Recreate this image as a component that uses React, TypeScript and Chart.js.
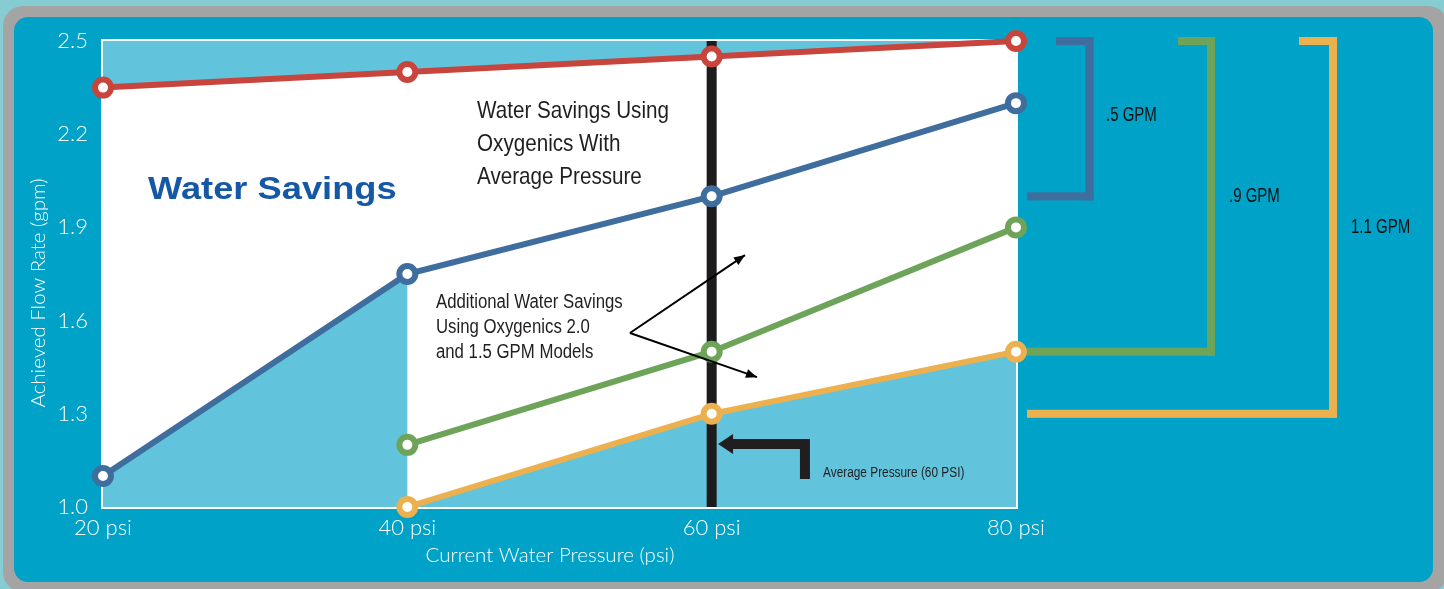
import React, { useEffect, useRef } from 'react';
import { Chart, registerables } from 'chart.js';

Chart.register(...registerables);

// ---------- data ----------
const pressures = [20, 40, 60, 80];
const standardFlow = [2.35, 2.4, 2.45, 2.5]; // red
const oxygenicsFlow = [1.1, 1.75, 2.0, 2.3]; // blue
const oxygenics20Flow = [null, 1.2, 1.5, 1.9]; // green
const oxygenics15Flow = [null, 1.0, 1.3, 1.5]; // orange
const yTickValues = [1.0, 1.3, 1.6, 1.9, 2.2, 2.5];
const xTickValues = [20, 40, 60, 80];
const averagePressure = 60;

const bracketTop = [2.5, 2.5, 2.5];
const bracketBottom = [2.0, 1.5, 1.3];
const bracketLabels = ['.5 GPM', '.9 GPM', '1.1 GPM'];
const bracketLabelY = [2.26, 2.0, 1.9];

const xTitle = 'Current Water Pressure (psi)';
const yTitle = 'Achieved Flow Rate (gpm)';
const titleMain = 'Water Savings';
const noteAverage = ['Water Savings Using', 'Oxygenics With', 'Average Pressure'];
const noteAdditional = ['Additional Water Savings', 'Using Oxygenics 2.0', 'and 1.5 GPM Models'];
const noteAvgPressure = 'Average Pressure (60 PSI)';

// ---------- styles ----------
const RED = '#C8453D';
const BLUE = '#3E6D9E';
const GREEN = '#6DA45A';
const ORANGE = '#EDB04E';
const LIGHT = '#62C4DC';
const INK = '#211E1F';
const AXIS_FONT = 'Lato, "Liberation Sans", sans-serif';
const BASE_FONT = '"Liberation Sans", Arial, sans-serif';

const toXY = (vals: (number | null)[]) =>
  pressures
    .map((p, i) => ({ x: p, y: vals[i] }))
    .filter((d) => d.y !== null) as { x: number; y: number }[];

const lowerEnvelope = [
  { x: pressures[0], y: oxygenicsFlow[0] },
  { x: pressures[1], y: oxygenicsFlow[1] },
  ...pressures.slice(1).map((p, i) => ({ x: p, y: oxygenics15Flow[i + 1] as number })),
];

const seriesStyle = (color: string) => ({
  borderColor: color,
  borderWidth: 6,
  pointRadius: 8,
  pointHoverRadius: 8,
  pointBorderWidth: 6,
  pointBackgroundColor: '#ffffff',
  pointBorderColor: color,
  tension: 0,
  fill: false,
  clip: false as any,
});

function scaledText(
  ctx: CanvasRenderingContext2D,
  text: string,
  x: number,
  y: number,
  font: string,
  color: string,
  sx: number,
) {
  ctx.save();
  ctx.translate(x, y);
  ctx.scale(sx, 1);
  ctx.font = font;
  ctx.fillStyle = color;
  ctx.textAlign = 'left';
  ctx.textBaseline = 'middle';
  ctx.fillText(text, 0, 0);
  ctx.restore();
}

const narrowText = (
  ctx: CanvasRenderingContext2D,
  text: string,
  x: number,
  y: number,
  size: number,
  color: string,
  sx: number,
) => scaledText(ctx, text, x, y, `${size}px ${BASE_FONT}`, color, sx);

function arrowHead(ctx: CanvasRenderingContext2D, x0: number, y0: number, x1: number, y1: number, len: number, half: number) {
  const ang = Math.atan2(y1 - y0, x1 - x0);
  ctx.beginPath();
  ctx.moveTo(x1, y1);
  ctx.lineTo(x1 - len * Math.cos(ang) + half * Math.sin(ang), y1 - len * Math.sin(ang) - half * Math.cos(ang));
  ctx.lineTo(x1 - len * Math.cos(ang) - half * Math.sin(ang), y1 - len * Math.sin(ang) + half * Math.cos(ang));
  ctx.closePath();
  ctx.fill();
}

const decorPlugin = {
  id: 'decor',
  beforeDatasetsDraw(chart: any) {
    const { ctx, chartArea: a } = chart;
    ctx.save();
    ctx.fillStyle = '#ffffff';
    ctx.fillRect(a.left, a.top, a.right - a.left, a.bottom - a.top);
    ctx.strokeStyle = '#ffffff';
    ctx.lineWidth = 2;
    ctx.strokeRect(a.left - 1, a.top - 1, a.right - a.left + 2, a.bottom - a.top + 2);

    // axis titles
    ctx.fillStyle = '#ffffff';
    ctx.font = `300 20.5px ${AXIS_FONT}`;
    ctx.textAlign = 'center';
    ctx.textBaseline = 'middle';
    ctx.fillText(xTitle, a.left + 447, a.bottom + 48);
    ctx.save();
    ctx.translate(a.left - 65, a.top + 252);
    ctx.rotate(-Math.PI / 2);
    ctx.fillText(yTitle, 0, 0);
    ctx.restore();
    ctx.restore();
  },
  afterDatasetsDraw(chart: any) {
    const { ctx, chartArea: a, scales } = chart;
    const X = (v: number) => scales.x.getPixelForValue(v);
    const Y = (v: number) => scales.y.getPixelForValue(v);
    ctx.save();

    // Brackets on the right
    const colors = [BLUE, GREEN, ORANGE];
    const vOff = [73.5, 195, 317];
    const topStart = [40, 162, 283];
    const botStart = 11;
    const labelOff = [90, 213, 335];
    const t = 8;
    for (let i = 0; i < 3; i++) {
      const vx = a.right + vOff[i];
      const yt = Y(bracketTop[i]);
      const yb = Y(bracketBottom[i]);
      ctx.fillStyle = colors[i];
      ctx.fillRect(a.right + topStart[i], yt - t / 2, vx + t / 2 - (a.right + topStart[i]), t);
      ctx.fillRect(vx - t / 2, yt - t / 2, t, yb - yt + t);
      ctx.fillRect(a.right + botStart, yb - t / 2, vx + t / 2 - (a.right + botStart), t);
      narrowText(ctx, bracketLabels[i], a.right + labelOff[i], Y(bracketLabelY[i]), 20, '#111111', 0.75);
    }

    // Main title (wide bold)
    scaledText(ctx, titleMain, X(22.96), Y(2.02), `bold 31px ${BASE_FONT}`, '#1558A6', 1.17);

    // Note: with average pressure
    noteAverage.forEach((line, i) => narrowText(ctx, line, X(44.58), Y(2.275) + i * 33, 24, INK, 0.86));

    // Note: additional
    noteAdditional.forEach((line, i) => narrowText(ctx, line, X(41.88), Y(1.657) + i * 25, 19.5, INK, 0.86));

    // Arrows from note
    const ox = X(54.63), oy = Y(1.56);
    const ends = [
      [X(62.19), Y(1.811)],
      [X(62.98), Y(1.418)],
    ];
    ctx.strokeStyle = '#000000';
    ctx.fillStyle = '#000000';
    ctx.lineWidth = 2;
    ends.forEach(([ex, ey]) => {
      ctx.beginPath();
      ctx.moveTo(ox, oy);
      ctx.lineTo(ex, ey);
      ctx.stroke();
      arrowHead(ctx, ox, oy, ex, ey, 11, 4.5);
    });

    // Average pressure bent arrow
    const cx = X(66.13), cy = Y(1.203);
    const by = Y(1.09);
    const tipX = X(60.42);
    ctx.strokeStyle = INK;
    ctx.fillStyle = INK;
    ctx.lineWidth = 10;
    ctx.lineJoin = 'miter';
    ctx.lineCap = 'butt';
    ctx.beginPath();
    ctx.moveTo(cx, by);
    ctx.lineTo(cx, cy);
    ctx.lineTo(tipX + 14, cy);
    ctx.stroke();
    ctx.beginPath();
    ctx.moveTo(tipX, cy);
    ctx.lineTo(tipX + 15, cy - 10);
    ctx.lineTo(tipX + 15, cy + 10);
    ctx.closePath();
    ctx.fill();

    narrowText(ctx, noteAvgPressure, X(67.32), Y(1.109), 14, INK, 0.846);

    ctx.restore();
  },
};

export default function App() {
  const ref = useRef<HTMLCanvasElement | null>(null);

  useEffect(() => {
    if (!ref.current) return;
    const chart = new Chart(ref.current, {
      type: 'line',
      data: {
        datasets: [
          { label: 'Standard', data: toXY(standardFlow), ...seriesStyle(RED) },
          { label: 'Oxygenics', data: toXY(oxygenicsFlow), ...seriesStyle(BLUE) },
          { label: 'Oxygenics 2.0', data: toXY(oxygenics20Flow), ...seriesStyle(GREEN) },
          { label: 'Oxygenics 1.5', data: toXY(oxygenics15Flow), ...seriesStyle(ORANGE) },
          {
            label: 'Average pressure',
            data: [
              { x: averagePressure, y: yTickValues[0] },
              { x: averagePressure, y: yTickValues[yTickValues.length - 1] },
            ],
            borderColor: '#1D1B1C',
            borderWidth: 10,
            borderCapStyle: 'butt',
            pointRadius: 0,
            fill: false,
          },
          {
            label: 'Top fill',
            data: toXY(standardFlow),
            borderColor: 'transparent',
            borderWidth: 0,
            pointRadius: 0,
            backgroundColor: LIGHT,
            fill: 'end',
          },
          {
            label: 'Bottom fill',
            data: lowerEnvelope,
            borderColor: 'transparent',
            borderWidth: 0,
            pointRadius: 0,
            backgroundColor: LIGHT,
            fill: 'start',
          },
        ] as any,
      },
      options: {
        animation: false,
        responsive: false,
        devicePixelRatio: 1,
        events: [],
        layout: { padding: { left: 0, top: 41, right: 428, bottom: 0 } },
        plugins: {
          legend: { display: false },
          tooltip: { enabled: false },
        },
        scales: {
          x: {
            type: 'linear',
            min: 20,
            max: 80,
            grid: { display: false, drawTicks: false },
            border: { display: false },
            afterFit: (s: any) => {
              s.height = 82;
            },
            afterBuildTicks: (s: any) => {
              s.ticks = xTickValues.map((v) => ({ value: v }));
            },
            ticks: {
              color: '#ffffff',
              font: { family: AXIS_FONT, size: 22, weight: '300' as any },
              padding: 8,
              maxRotation: 0,
              autoSkip: false,
              callback: (v: any) => `${v} psi`,
            },
            title: { display: false },
          },
          y: {
            type: 'linear',
            min: 1.0,
            max: 2.5,
            grid: { display: false, drawTicks: false },
            border: { display: false },
            afterFit: (s: any) => {
              s.width = 103;
            },
            afterBuildTicks: (s: any) => {
              s.ticks = yTickValues.map((v) => ({ value: v }));
            },
            ticks: {
              color: '#ffffff',
              font: { family: AXIS_FONT, size: 22, weight: '300' as any },
              padding: 15,
              autoSkip: false,
              callback: (v: any) => Number(v).toFixed(1),
            },
            title: { display: false },
          },
        },
      },
      plugins: [decorPlugin],
    });
    return () => chart.destroy();
  }, []);

  return (
    <div
      style={{
        position: 'fixed',
        left: 0,
        top: 0,
        width: 1444,
        height: 589,
        overflow: 'hidden',
        background: '#86CDD3',
      }}
    >
      <div
        style={{
          position: 'absolute',
          left: 3,
          top: 6,
          width: 1445,
          height: 586,
          background: '#A4A4A4',
          borderRadius: 20,
        }}
      />
      <div
        style={{
          position: 'absolute',
          left: 14,
          top: 17,
          width: 1419,
          height: 565,
          background: '#00A2C8',
          borderRadius: 14,
        }}
      />
      <canvas
        ref={ref}
        width={1444}
        height={589}
        style={{ position: 'absolute', left: 0, top: 0, width: 1444, height: 589 }}
      />
    </div>
  );
}
